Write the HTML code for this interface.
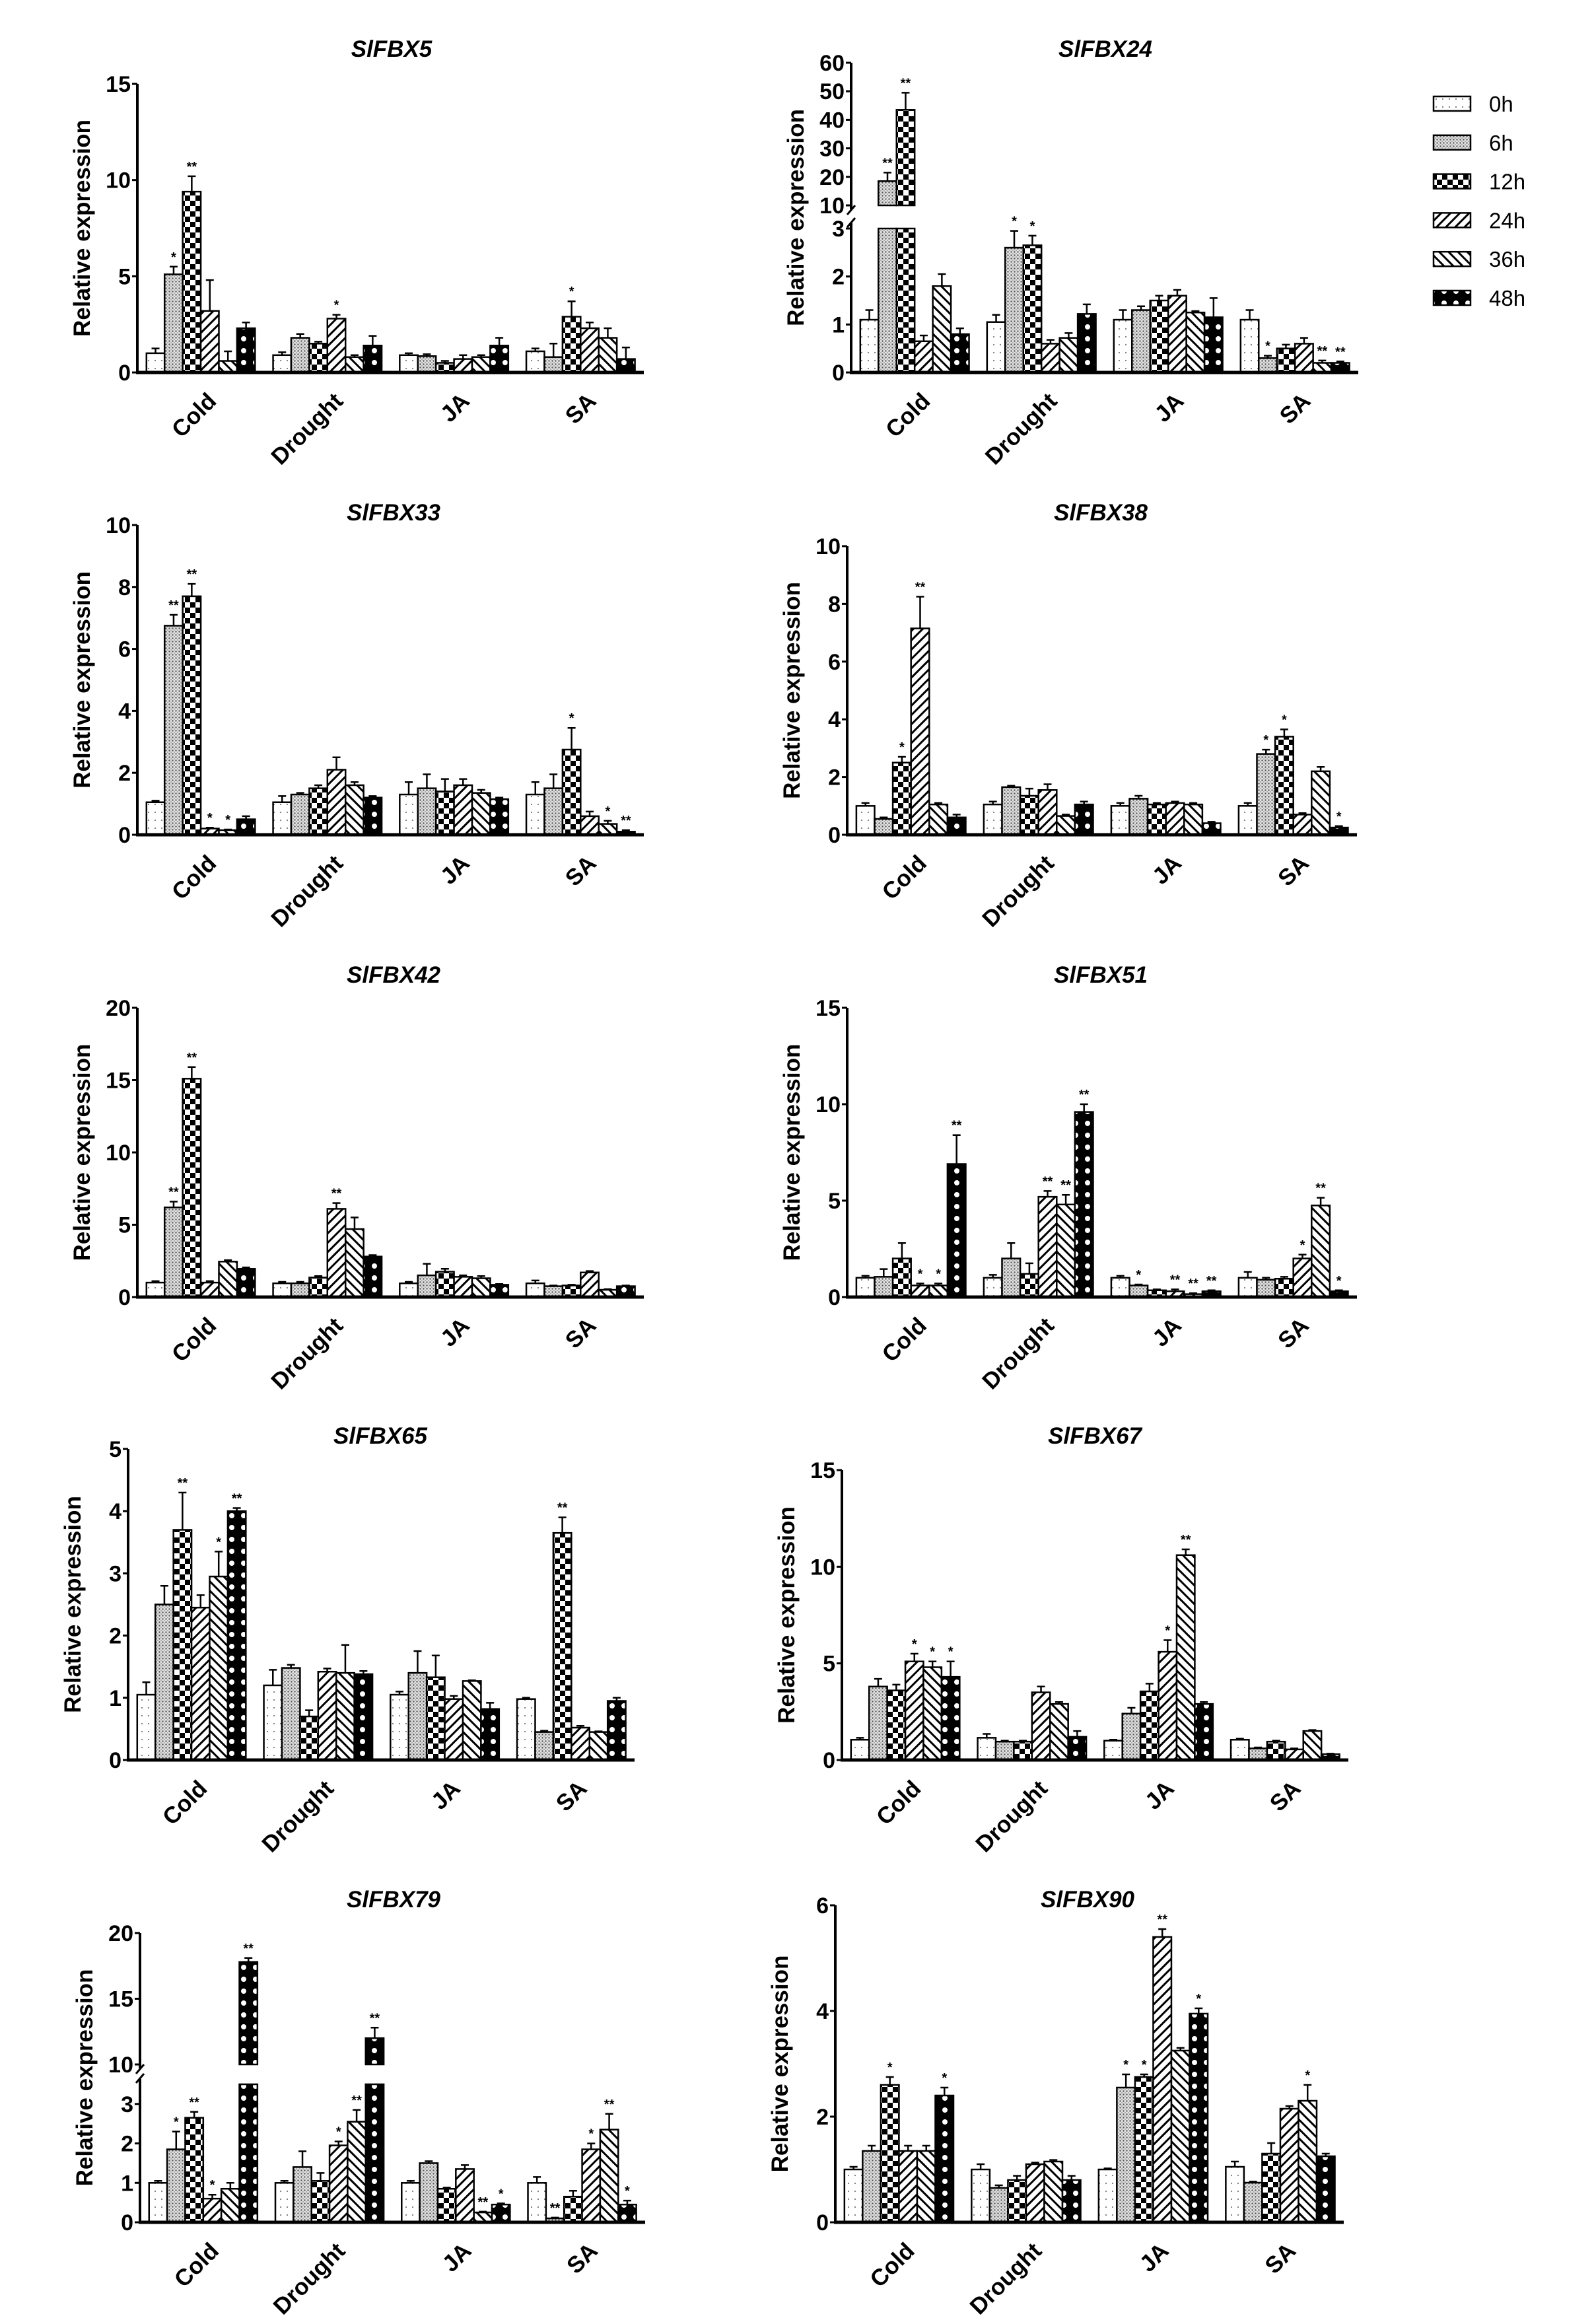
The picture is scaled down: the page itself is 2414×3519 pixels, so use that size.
<!DOCTYPE html>
<html><head><meta charset="utf-8"><style>
html,body{margin:0;padding:0;background:#fff;}
svg{display:block;}
text{font-family:"Liberation Sans",Arial,sans-serif;}
</style></head><body>
<svg id="fig" width="2414" height="3519" viewBox="0 0 2414 3519" xmlns="http://www.w3.org/2000/svg">
<defs>
<pattern id="p0" patternUnits="userSpaceOnUse" width="10" height="12"><rect width="10" height="12" fill="#fff"/><circle cx="5" cy="6" r="1.1" fill="#777"/></pattern>
<pattern id="p1" patternUnits="userSpaceOnUse" width="5" height="5"><rect width="5" height="5" fill="#e0e0e0"/><circle cx="1.5" cy="1.5" r="1.2" fill="#555"/><circle cx="4" cy="4" r="0.9" fill="#888"/></pattern>
<pattern id="p2" patternUnits="userSpaceOnUse" width="16" height="16"><rect width="16" height="16" fill="#fff"/><rect width="8" height="8" fill="#000"/><rect x="8" y="8" width="8" height="8" fill="#000"/></pattern>
<pattern id="p3" patternUnits="userSpaceOnUse" width="10" height="10" patternTransform="rotate(45)"><rect width="10" height="10" fill="#fff"/><rect x="0" width="3" height="10" fill="#000"/></pattern>
<pattern id="p4" patternUnits="userSpaceOnUse" width="10" height="10" patternTransform="rotate(-45)"><rect width="10" height="10" fill="#fff"/><rect x="0" width="3" height="10" fill="#000"/></pattern>
<pattern id="p5" patternUnits="userSpaceOnUse" width="18" height="18"><rect width="18" height="18" fill="#000"/><circle cx="9" cy="9" r="4" fill="#fff"/></pattern>
</defs>
<g id="root"></g>
</svg>
<script>
const categories = ["Cold","Drought","JA","SA"];
const timepoints = ["0h","6h","12h","24h","36h","48h"];
const titles = ["SlFBX5","SlFBX24","SlFBX33","SlFBX38","SlFBX42","SlFBX51","SlFBX65","SlFBX67","SlFBX79","SlFBX90"];
const values = [
 [[1.0,5.1,9.4,3.2,0.6,2.3],[0.9,1.8,1.5,2.8,0.8,1.4],[0.9,0.85,0.5,0.7,0.8,1.4],[1.1,0.8,2.9,2.3,1.8,0.7]],
 [[1.1,18.5,43.5,0.65,1.8,0.8],[1.05,2.6,2.65,0.6,0.72,1.22],[1.1,1.3,1.5,1.6,1.25,1.15],[1.1,0.3,0.5,0.6,0.2,0.2]],
 [[1.05,6.75,7.7,0.2,0.15,0.5],[1.05,1.3,1.5,2.1,1.6,1.2],[1.3,1.5,1.4,1.6,1.35,1.15],[1.3,1.5,2.75,0.6,0.35,0.1]],
 [[1.0,0.55,2.5,7.15,1.05,0.6],[1.05,1.65,1.35,1.55,0.65,1.05],[1.0,1.25,1.05,1.1,1.05,0.4],[1.0,2.8,3.4,0.7,2.2,0.25]],
 [[1.0,6.2,15.1,1.0,2.45,1.95],[0.95,0.95,1.35,6.1,4.7,2.8],[0.95,1.5,1.75,1.4,1.3,0.85],[0.95,0.75,0.8,1.7,0.5,0.75]],
 [[1.0,1.05,2.0,0.6,0.6,6.9],[1.0,2.0,1.2,5.2,4.8,9.6],[1.0,0.6,0.35,0.3,0.15,0.3],[1.0,0.9,0.95,2.0,4.75,0.3]],
 [[1.05,2.5,3.7,2.45,2.95,4.0],[1.2,1.48,0.7,1.42,1.4,1.38],[1.05,1.4,1.33,0.98,1.27,0.82],[0.98,0.45,3.65,0.52,0.45,0.95]],
 [[1.05,3.8,3.6,5.1,4.8,4.3],[1.15,0.95,0.95,3.5,2.9,1.2],[1.0,2.4,3.55,5.6,10.6,2.9],[1.05,0.6,0.95,0.55,1.5,0.3]],
 [[1.0,1.85,2.65,0.6,0.85,17.8],[1.0,1.4,1.05,1.95,2.55,12],[1.0,1.5,0.85,1.35,0.25,0.45],[1.0,0.1,0.65,1.85,2.35,0.45]],
 [[1.0,1.35,2.6,1.35,1.35,2.4],[1.0,0.65,0.8,1.1,1.15,0.8],[1.0,2.55,2.75,5.4,3.25,3.95],[1.05,0.75,1.3,2.15,2.3,1.25]]
];
const errors = [
 [[.25,.4,.8,1.6,.5,.3],[.15,.2,.1,.2,.1,.5],[.1,.1,.1,.2,.1,.4],[.15,.7,.8,.3,.5,.6]],
 [[.2,3,6,.12,.25,.12],[.15,.35,.2,.08,.1,.2],[.2,.08,.1,.12,.03,.4],[.2,.05,.08,.12,.05,.03]],
 [[.05,.35,.4,.03,.02,.1],[.2,.05,.1,.4,.1,.05],[.4,.45,.4,.2,.1,.05],[.4,.45,.7,.15,.1,.05]],
 [[.1,.05,.2,1.1,.05,.1],[.1,.05,.25,.2,.05,.1],[.1,.1,.05,.05,.05,.05],[.1,.15,.25,.05,.15,.05]],
 [[.1,.4,.8,.1,.1,.1],[.1,.1,.1,.4,.8,.1],[.1,.8,.2,.1,.15,.05],[.2,.05,.05,.1,.05,.05]],
 [[.1,.4,.8,.1,.1,1.5],[.15,.8,.55,.3,.5,.4],[.1,.05,.05,.1,.05,.05],[.3,.1,.1,.2,.4,.05]],
 [[.2,.3,.6,.2,.4,.05],[.25,.05,.1,.05,.45,.05],[.05,.35,.35,.05,.01,.1],[.02,.02,.25,.03,.01,.05]],
 [[.1,.4,.3,.4,.3,.8],[.2,.05,.05,.3,.1,.3],[.05,.3,.4,.6,.3,.1],[.05,.05,.05,.05,.05,.03]],
 [[.05,.45,.15,.1,.15,.3],[.05,.4,.2,.1,.3,.8],[.05,.05,.03,.1,.02,.03],[.15,.02,.15,.15,.4,.1]],
 [[.05,.1,.15,.1,.1,.15],[.1,.05,.08,.03,.03,.08],[.02,.25,.05,.15,.05,.1],[.1,.02,.2,.05,.3,.05]]
];
const stars = [
 [["","*","**","","",""],["","","","*","",""],["","","","","",""],["","","*","","",""]],
 [["","**","**","","",""],["","*","*","","",""],["","","","","",""],["","*","","","**","**"]],
 [["","**","**","*","*",""],["","","","","",""],["","","","","",""],["","","*","","*","**"]],
 [["","","*","**","",""],["","","","","",""],["","","","","",""],["","*","*","","","*"]],
 [["","**","**","","",""],["","","","**","",""],["","","","","",""],["","","","","",""]],
 [["","","","*","*","**"],["","","","**","**","**"],["","*","","**","**","**"],["","","","*","**","*"]],
 [["","","**","","*","**"],["","","","","",""],["","","","","",""],["","","**","","",""]],
 [["","","","*","*","*"],["","","","","",""],["","","","*","**",""],["","","","","",""]],
 [["","*","**","*","","**"],["","","","*","**","**"],["","","","","**","*"],["","**","","*","**","*"]],
 [["","","*","","","*"],["","","","","",""],["","*","*","**","","*"],["","","","","*",""]]
];
const yTicks = [[0,5,10,15],[0,1,2,3,10,20,30,40,50,60],[0,2,4,6,8,10],[0,2,4,6,8,10],[0,5,10,15,20],[0,5,10,15],[0,1,2,3,4,5],[0,5,10,15],[0,1,2,3,10,15,20],[0,2,4,6]];

// layout (not data)
const panels = [
 {x0:208,x1:975,y0:564,yTop:127,max:15,tx:593,ty:74},
 {x0:1289,x1:2057,y0:564,brk:{lowMax:3,lowTop:346,hiMin:10,hiMax:60,hiBot:311,hiTop:95},tx:1674,ty:74},
 {x0:208,x1:975,y0:1264,yTop:795,max:10,tx:596,ty:776},
 {x0:1283,x1:2055,y0:1264,yTop:827,max:10,tx:1667,ty:776},
 {x0:208,x1:975,y0:1964,yTop:1526,max:20,tx:596,ty:1476},
 {x0:1283,x1:2055,y0:1964,yTop:1526,max:15,tx:1667,ty:1476},
 {x0:194,x1:961,y0:2665,yTop:2194,max:5,tx:576,ty:2174},
 {x0:1275,x1:2042,y0:2665,yTop:2226,max:15,tx:1658,ty:2174},
 {x0:212,x1:977,y0:3365,brk:{lowMax:3.5,lowTop:3156,hiMin:10,hiMax:20,hiBot:3126,hiTop:2927},tx:596,ty:2876},
 {x0:1265,x1:2035,y0:3365,yTop:2885,max:6,tx:1647,ty:2876}
];
const NS="http://www.w3.org/2000/svg";
const root=document.getElementById('root');
function mk(tag,attrs,parent){const e=document.createElementNS(NS,tag);for(const k in attrs)e.setAttribute(k,attrs[k]);(parent||root).appendChild(e);return e;}

panels.forEach((P,pi)=>{
  const g=mk('g',{});
  
  
  let yScale;
  if(P.brk){
    const B=P.brk;
    yScale=v=>{
      if(v<=B.lowMax) return P.y0-(P.y0-B.lowTop)*v/B.lowMax;
      return B.hiBot-(B.hiBot-B.hiTop)*(v-B.hiMin)/(B.hiMax-B.hiMin);
    };
  } else {
    yScale=v=>P.y0-(P.y0-P.yTop)*v/P.max;
  }
  const t=mk('text',{x:P.tx,y:P.ty+12,'text-anchor':'middle','font-size':35,'font-weight':'bold','font-style':'italic'},g);
  t.textContent=titles[pi];
  
  
  const yTopPx=P.brk?P.brk.hiTop:P.yTop;
  const cy=(yTopPx+P.y0)/2;
  const yl=mk('text',{x:0,y:0,transform:`translate(${P.x0-72},${cy}) rotate(-90)`,'text-anchor':'middle','font-size':35,'font-weight':'bold'},g);
  yl.textContent='Relative expression';
  
  
  const W=P.x1-P.x0, pitch=W/4, bw=pitch*0.143, off=W*0.018;
  values[pi].forEach((grp,ci)=>{
    grp.forEach((v,ti)=>{
      const bx=P.x0+off+ci*pitch+ti*bw;
      const e=errors[pi][ci][ti];
      if(P.brk && v>P.brk.lowMax){
        const B=P.brk;
        const r1=mk('rect',{x:bx,y:B.lowTop,width:bw,height:P.y0-B.lowTop,fill:`url(#p${ti})`,stroke:'#000','stroke-width':2.5},g);
        
        
        const yt=yScale(v);
        const r2=mk('rect',{x:bx,y:yt,width:bw,height:B.hiBot-yt,fill:`url(#p${ti})`,stroke:'#000','stroke-width':2.5},g);
        
        
      } else {
        const yt=yScale(v);
        const r=mk('rect',{x:bx,y:yt,width:bw,height:P.y0-yt,fill:`url(#p${ti})`,stroke:'#000','stroke-width':2.5},g);
        
        
      }
      const yt=yScale(v), ye=yScale(v+e);
      const cx=bx+bw/2;
      const eb=mk('path',{d:`M${cx},${yt}V${ye}M${cx-6},${ye}H${cx+6}`,stroke:'#000','stroke-width':2.5,fill:'none'},g);
      
      
      const s=stars[pi][ci][ti];
      if(s){
        const st=mk('text',{x:cx,y:ye-8,'text-anchor':'middle','font-size':20,'font-weight':'bold'},g);
        st.textContent=s;
        
        
      }
    });
    const gx=P.x0+off+ci*pitch+3*bw+8;
    const cl=mk('text',{x:0,y:0,transform:`translate(${gx},${P.y0+28}) rotate(-45)`,'text-anchor':'end','dominant-baseline':'hanging','font-size':35,'font-weight':'bold'},g);
    cl.textContent=categories[ci];
    
    
  });
  mk('line',{x1:P.x0-2,y1:P.y0,x2:P.x1,y2:P.y0,stroke:'#000','stroke-width':5},g);
  if(P.brk){
    const B=P.brk;
    mk('line',{x1:P.x0,y1:P.y0,x2:P.x0,y2:B.lowTop-8,stroke:'#000','stroke-width':4},g);
    mk('line',{x1:P.x0,y1:B.hiBot+6,x2:P.x0,y2:B.hiTop,stroke:'#000','stroke-width':4},g);
    mk('path',{d:`M${P.x0-6},${B.lowTop-2}L${P.x0+6},${B.lowTop-16}M${P.x0-6},${B.hiBot+14}L${P.x0+6},${B.hiBot}`,stroke:'#000','stroke-width':3,fill:'none'},g);
  } else {
    mk('line',{x1:P.x0,y1:P.y0,x2:P.x0,y2:P.yTop,stroke:'#000','stroke-width':4},g);
  }
  yTicks[pi].forEach(tv=>{
    const y=yScale(tv);
    mk('line',{x1:P.x0-8,y1:y,x2:P.x0,y2:y,stroke:'#000','stroke-width':3},g);
    const tl=mk('text',{x:P.x0-10,y:y+12,'text-anchor':'end','font-size':34,'font-weight':'bold'},g);
    tl.textContent=tv;
    
    
  });
});

const lg=mk('g',{});


timepoints.forEach((tp,i)=>{
  const y=157+i*58.8;
  const r=mk('rect',{x:2171,y:y-11,width:56,height:22,fill:`url(#p${i})`,stroke:'#000','stroke-width':2.5},lg);
  
  
  const t=mk('text',{x:2255,y:y+12,'font-size':33},lg);
  t.textContent=tp;
  
  
});
</script>
</body></html>
